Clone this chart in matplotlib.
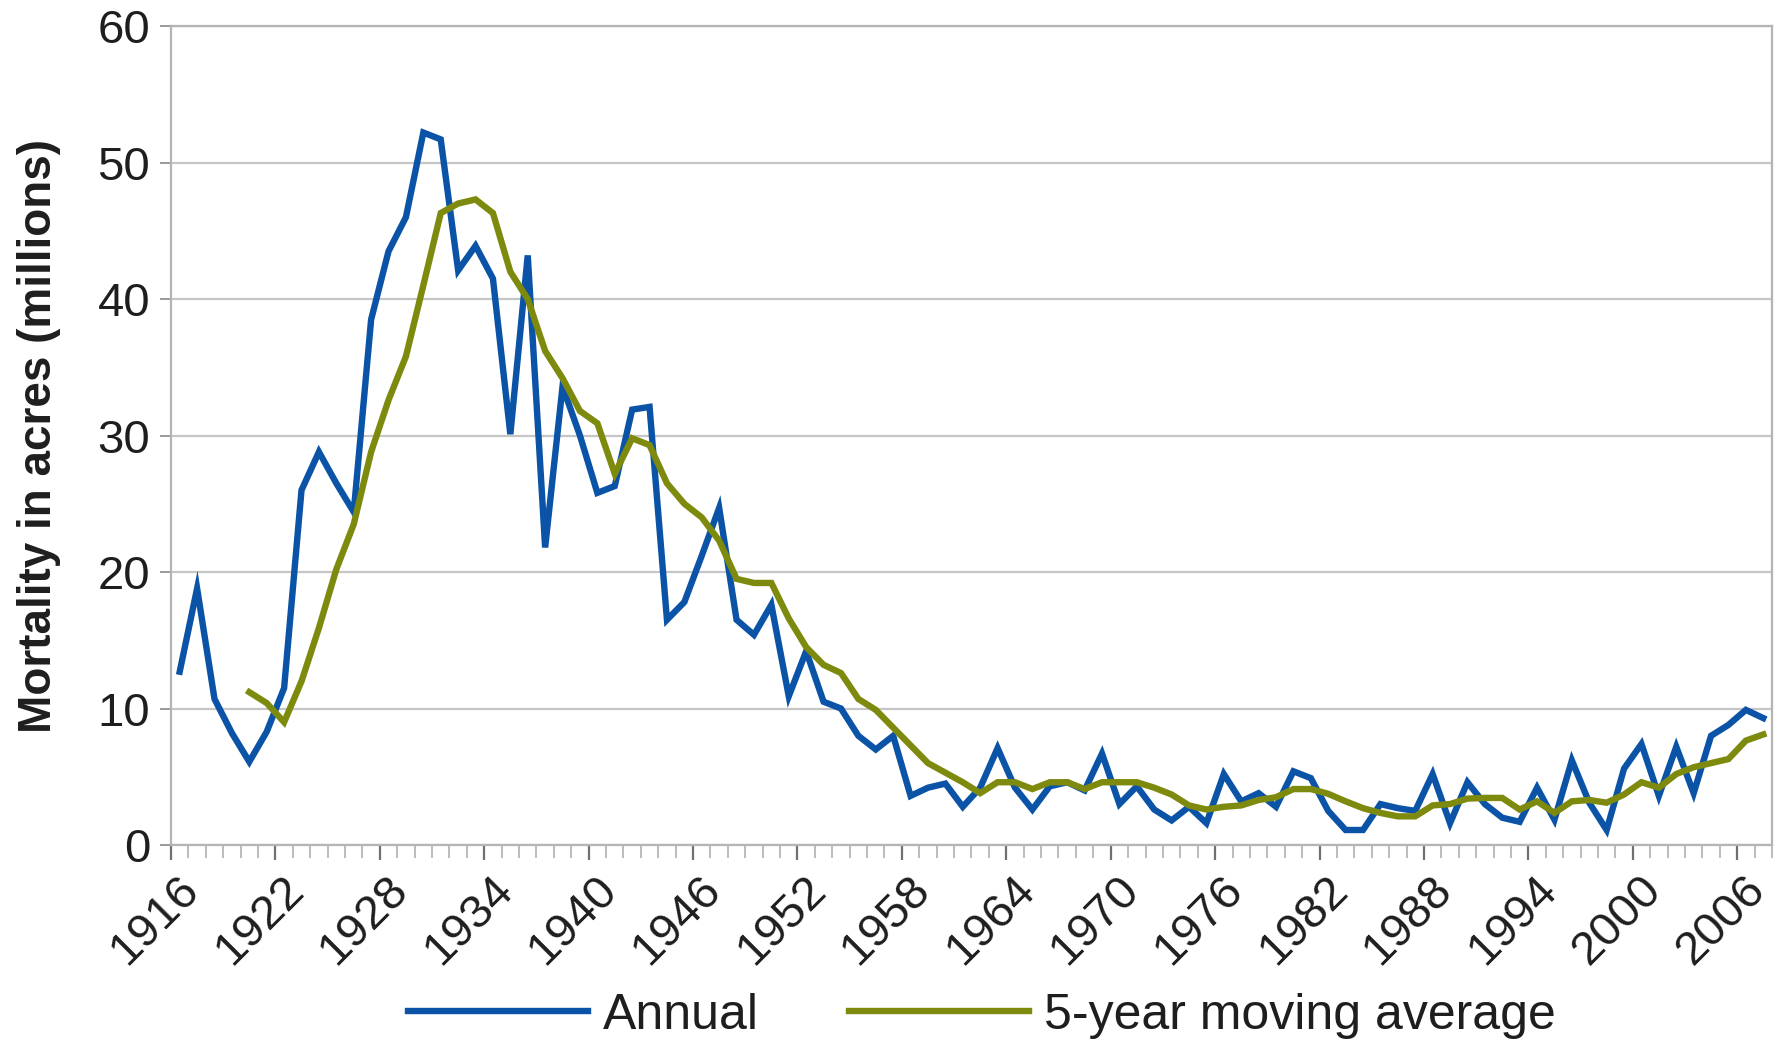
import matplotlib
matplotlib.use('Agg')
import matplotlib.pyplot as plt
import matplotlib.transforms as mtransforms
import numpy as np

# annual mortality, millions of acres, 1916-2007
years = list(range(1916, 2008))
annual = [12.7, 18.8, 10.7, 8.2, 6.1, 8.3, 11.5, 26.0, 28.8, 26.5,
          24.4, 38.5, 43.5, 46.0, 52.2, 51.7, 42.1, 43.9, 41.5, 30.1,
          43.2, 21.8, 33.6, 30.0, 25.8, 26.3, 31.9, 32.1, 16.5, 17.8,
          21.2, 24.7, 16.5, 15.4, 17.6, 10.9, 14.2, 10.5, 10.0, 8.0,
          7.0, 8.0, 3.6, 4.2, 4.5, 2.8, 4.2, 7.1, 4.2, 2.6,
          4.3, 4.6, 4.0, 6.7, 3.0, 4.3, 2.6, 1.8, 2.8, 1.6,
          5.2, 3.2, 3.8, 2.8, 5.4, 4.9, 2.5, 1.1, 1.1, 3.0,
          2.7, 2.5, 5.2, 1.6, 4.6, 3.0, 2.0, 1.7, 4.2, 1.85,
          6.2, 3.1, 1.1, 5.6, 7.4, 3.6, 7.2, 3.8, 8.0, 8.8,
          9.9, 9.3]

# trailing 5-year moving average, 1920-2007
ma_years = list(range(1920, 2008))
moving_avg = [11.2, 10.4, 9.0, 12.0, 15.9, 20.2, 23.5, 28.8, 32.6, 35.8,
              41.0, 46.3, 47.0, 47.3, 46.3, 42.0, 40.0, 36.2, 34.2, 31.8,
              30.9, 27.2, 29.8, 29.3, 26.5, 25.0, 24.0, 22.3, 19.5, 19.2,
              19.2, 16.6, 14.5, 13.2, 12.6, 10.7, 9.9, 8.6, 7.3, 6.0,
              5.3, 4.6, 3.8, 4.6, 4.6, 4.1, 4.6, 4.6, 4.1, 4.6,
              4.6, 4.6, 4.2, 3.7, 2.9, 2.6, 2.8, 2.9, 3.3, 3.5,
              4.1, 4.1, 3.75, 3.2, 2.7, 2.35, 2.1, 2.1, 2.9, 3.0,
              3.4, 3.45, 3.45, 2.6, 3.2, 2.35, 3.2, 3.3, 3.1, 3.7,
              4.6, 4.2, 5.2, 5.7, 6.0, 6.3, 7.65, 8.1]

label_years = list(range(1916, 2008, 6))
yticks = [0, 10, 20, 30, 40, 50, 60]

BLUE = '#0a53a6'
OLIVE = '#7e8a0e'
GRID = '#c6c6c6'
TEXT = '#1e1e1e'

plt.rcParams['font.family'] = ['Liberation Sans', 'DejaVu Sans']

fig = plt.figure(figsize=(17.85, 10.44), dpi=100)
ax = fig.add_axes([0.0958, 0.1906, 0.8969, 0.7844])

ax.plot(years, annual, color=BLUE, lw=4.6, solid_joinstyle='miter', label='Annual', zorder=3)
ax.plot(ma_years, moving_avg, color=OLIVE, lw=4.6, solid_joinstyle='miter',
        label='5-year moving average', zorder=4)

ax.set_xlim(1915.5, 2007.5)
ax.set_ylim(0, 60)

# y axis: gridlines + small outward ticks
ax.set_yticks(yticks)
ax.set_yticklabels([str(v) for v in yticks], fontsize=34, color=TEXT)
ax.yaxis.grid(True, color=GRID, lw=1.6)
ax.set_axisbelow(True)
ax.tick_params(axis='y', length=8, width=1.4, color='#9a9a9a', pad=7)

# x axis: tick marks sit between categories, labels every 6 years
ax.set_xticks([y - 0.5 for y in label_years])
ax.set_xticks(np.arange(1915.5, 2008, 1), minor=True)
ax.set_xticklabels([str(y) for y in label_years], fontsize=34, color=TEXT,
                   rotation=45, ha='right', va='top', rotation_mode='anchor')
ax.tick_params(axis='x', which='major', length=11, width=1.6, color='#707070', pad=5)
ax.tick_params(axis='x', which='minor', length=9, width=1.2, color='#b0b0b0')
shift = mtransforms.ScaledTranslation(0.06, 0, fig.dpi_scale_trans)
for lbl in ax.get_xticklabels():
    lbl.set_transform(lbl.get_transform() + shift)

for s in ax.spines.values():
    s.set_color('#b4b4b4')
    s.set_linewidth(1.6)

ax.set_ylabel('Mortality in acres (millions)', fontsize=33, fontweight='bold',
              color=TEXT, labelpad=26)

fig.legend(loc='center', bbox_to_anchor=(0.55, 0.027), ncol=2, frameon=False,
           fontsize=36, handlelength=3.6, handletextpad=0.3, columnspacing=1.8,
           labelcolor=TEXT)

fig.savefig('out.png', dpi=100, facecolor='white')
